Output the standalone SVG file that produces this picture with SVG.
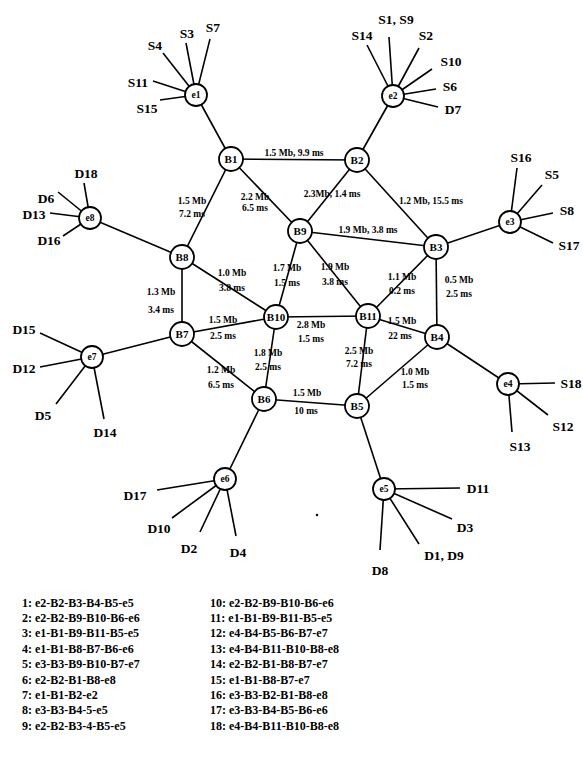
<svg xmlns="http://www.w3.org/2000/svg" width="583" height="762" viewBox="0 0 583 762">
<style>
.e{stroke:#000;stroke-width:1.6;fill:none}
.n{fill:#fff;stroke:#000;stroke-width:1.8}
.nl{font-family:"Liberation Serif",serif;font-weight:bold;font-size:11px;text-anchor:middle;dominant-baseline:central}
.ne{font-family:"Liberation Serif",serif;font-weight:bold;font-size:9.5px;text-anchor:middle;dominant-baseline:central}
.lf{font-family:"Liberation Serif",serif;font-weight:bold;font-size:13.5px;text-anchor:middle;dominant-baseline:central}
.el{font-family:"Liberation Serif",serif;font-weight:bold;font-size:9.5px;text-anchor:middle;dominant-baseline:central}
.rt{font-family:"Liberation Serif",serif;font-weight:bold;font-size:12px}
</style>
<rect width="583" height="762" fill="#fff"/>
<g id="connectors" class="e">
<line x1="196" y1="95" x2="231" y2="159"/>
<line x1="393" y1="96" x2="357" y2="160"/>
<line x1="231" y1="159" x2="357" y2="160"/>
<line x1="231" y1="159" x2="182" y2="257"/>
<line x1="231" y1="159" x2="300" y2="231"/>
<line x1="357" y1="160" x2="300" y2="231"/>
<line x1="357" y1="160" x2="436" y2="247"/>
<line x1="436" y1="247" x2="510" y2="222"/>
<line x1="300" y1="231" x2="436" y2="247"/>
<line x1="182" y1="257" x2="90" y2="218"/>
<line x1="182" y1="257" x2="182" y2="334"/>
<line x1="182" y1="257" x2="276" y2="317"/>
<line x1="300" y1="231" x2="276" y2="317"/>
<line x1="300" y1="231" x2="368" y2="316"/>
<line x1="436" y1="247" x2="368" y2="316"/>
<line x1="436" y1="247" x2="437" y2="337"/>
<line x1="182" y1="334" x2="92" y2="357"/>
<line x1="182" y1="334" x2="276" y2="317"/>
<line x1="276" y1="317" x2="368" y2="316"/>
<line x1="368" y1="316" x2="437" y2="337"/>
<line x1="437" y1="337" x2="508" y2="384"/>
<line x1="182" y1="334" x2="264" y2="399"/>
<line x1="276" y1="317" x2="264" y2="399"/>
<line x1="368" y1="316" x2="357" y2="406"/>
<line x1="264" y1="399" x2="357" y2="406"/>
<line x1="437" y1="337" x2="357" y2="406"/>
<line x1="264" y1="399" x2="225" y2="479"/>
<line x1="357" y1="406" x2="384" y2="489"/>
<line x1="196" y1="95" x2="163" y2="53"/>
<line x1="196" y1="95" x2="186" y2="43"/>
<line x1="196" y1="95" x2="210" y2="39"/>
<line x1="196" y1="95" x2="153" y2="81"/>
<line x1="196" y1="95" x2="160" y2="100"/>
<line x1="393" y1="96" x2="367" y2="45"/>
<line x1="393" y1="96" x2="389" y2="37"/>
<line x1="393" y1="96" x2="419" y2="48"/>
<line x1="393" y1="96" x2="432" y2="69"/>
<line x1="393" y1="96" x2="436" y2="89"/>
<line x1="393" y1="96" x2="438" y2="107"/>
<line x1="510" y1="222" x2="517" y2="168"/>
<line x1="510" y1="222" x2="542" y2="185"/>
<line x1="510" y1="222" x2="553" y2="213"/>
<line x1="510" y1="222" x2="553" y2="243"/>
<line x1="90" y1="218" x2="84" y2="183"/>
<line x1="90" y1="218" x2="58" y2="192"/>
<line x1="90" y1="218" x2="50" y2="213"/>
<line x1="90" y1="218" x2="63" y2="236"/>
<line x1="92" y1="357" x2="40" y2="333"/>
<line x1="92" y1="357" x2="40" y2="367"/>
<line x1="92" y1="357" x2="56" y2="404"/>
<line x1="92" y1="357" x2="104" y2="419"/>
<line x1="508" y1="384" x2="555" y2="383"/>
<line x1="508" y1="384" x2="548" y2="415"/>
<line x1="508" y1="384" x2="512" y2="432"/>
<line x1="225" y1="479" x2="157" y2="490"/>
<line x1="225" y1="479" x2="172" y2="518"/>
<line x1="225" y1="479" x2="200" y2="532"/>
<line x1="225" y1="479" x2="236" y2="536"/>
<line x1="384" y1="489" x2="460" y2="488"/>
<line x1="384" y1="489" x2="452" y2="519"/>
<line x1="384" y1="489" x2="419" y2="544"/>
<line x1="384" y1="489" x2="380" y2="550"/>
</g>
<g id="edge-labels">
<text class="el" x="294" y="153">1.5 Mb, 9.9 ms</text>
<text class="el" x="192" y="201">1.5 Mb</text><text class="el" x="192" y="214">7.2 ms</text>
<text class="el" x="255" y="197">2.2 Mb</text><text class="el" x="255" y="208">6.5 ms</text>
<text class="el" x="332" y="194">2.3Mb, 1.4 ms</text>
<text class="el" x="431" y="201">1.2 Mb, 15.5 ms</text>
<text class="el" x="368" y="230">1.9 Mb, 3.8 ms</text>
<text class="el" x="161" y="292">1.3 Mb</text><text class="el" x="161" y="310">3.4 ms</text>
<text class="el" x="232" y="273">1.0 Mb</text><text class="el" x="232" y="288">3.8 ms</text>
<text class="el" x="287" y="268">1.7 Mb</text><text class="el" x="287" y="283">1.5 ms</text>
<text class="el" x="335" y="267">1.9 Mb</text><text class="el" x="335" y="282">3.8 ms</text>
<text class="el" x="402" y="277">1.1 Mb</text><text class="el" x="402" y="291">0.2 ms</text>
<text class="el" x="459" y="280">0.5 Mb</text><text class="el" x="459" y="294">2.5 ms</text>
<text class="el" x="223" y="320">1.5 Mb</text><text class="el" x="223" y="336">2.5 ms</text>
<text class="el" x="311" y="325">2.8 Mb</text><text class="el" x="311" y="339">1.5 ms</text>
<text class="el" x="402" y="321">1.5 Mb</text><text class="el" x="400" y="336">22 ms</text>
<text class="el" x="268" y="353">1.8 Mb</text><text class="el" x="268" y="367">2.5 ms</text>
<text class="el" x="359" y="351">2.5 Mb</text><text class="el" x="359" y="364">7.2 ms</text>
<text class="el" x="221" y="370">1.2 Mb</text><text class="el" x="221" y="385">6.5 ms</text>
<text class="el" x="307" y="393">1.5 Mb</text><text class="el" x="306" y="411">10 ms</text>
<text class="el" x="415" y="372">1.0 Mb</text><text class="el" x="415" y="385">1.5 ms</text>
</g>
<g id="e1"><circle class="n" cx="196" cy="95" r="11"/><text class="ne" x="196" y="95">e1</text></g>
<g id="e2"><circle class="n" cx="393" cy="96" r="11"/><text class="ne" x="393" y="96">e2</text></g>
<g id="e3"><circle class="n" cx="510" cy="222" r="11"/><text class="ne" x="510" y="222">e3</text></g>
<g id="e4"><circle class="n" cx="508" cy="384" r="11"/><text class="ne" x="508" y="384">e4</text></g>
<g id="e5"><circle class="n" cx="384" cy="489" r="11"/><text class="ne" x="384" y="489">e5</text></g>
<g id="e6"><circle class="n" cx="225" cy="479" r="11"/><text class="ne" x="225" y="479">e6</text></g>
<g id="e7"><circle class="n" cx="92" cy="357" r="11"/><text class="ne" x="92" y="357">e7</text></g>
<g id="e8"><circle class="n" cx="90" cy="218" r="11"/><text class="ne" x="90" y="218">e8</text></g>
<g id="B1"><circle class="n" cx="231" cy="159" r="12"/><text class="nl" x="231" y="159">B1</text></g>
<g id="B2"><circle class="n" cx="357" cy="160" r="12"/><text class="nl" x="357" y="160">B2</text></g>
<g id="B3"><circle class="n" cx="436" cy="247" r="12"/><text class="nl" x="436" y="247">B3</text></g>
<g id="B4"><circle class="n" cx="437" cy="337" r="12"/><text class="nl" x="437" y="337">B4</text></g>
<g id="B5"><circle class="n" cx="357" cy="406" r="12"/><text class="nl" x="357" y="406">B5</text></g>
<g id="B6"><circle class="n" cx="264" cy="399" r="12"/><text class="nl" x="264" y="399">B6</text></g>
<g id="B7"><circle class="n" cx="182" cy="334" r="12"/><text class="nl" x="182" y="334">B7</text></g>
<g id="B8"><circle class="n" cx="182" cy="257" r="12"/><text class="nl" x="182" y="257">B8</text></g>
<g id="B9"><circle class="n" cx="300" cy="231" r="12"/><text class="nl" x="300" y="231">B9</text></g>
<g id="B10"><circle class="n" cx="276" cy="317" r="12"/><text class="nl" x="276" y="317">B10</text></g>
<g id="B11"><circle class="n" cx="368" cy="316" r="12"/><text class="nl" x="368" y="316">B11</text></g>
<g id="leaf-labels">
<text class="lf" x="155" y="45">S4</text>
<text class="lf" x="187" y="33">S3</text>
<text class="lf" x="213" y="27">S7</text>
<text class="lf" x="138" y="82">S11</text>
<text class="lf" x="147" y="108">S15</text>
<text class="lf" x="362" y="35">S14</text>
<text class="lf" x="396" y="19">S1, S9</text>
<text class="lf" x="426" y="35">S2</text>
<text class="lf" x="451" y="61">S10</text>
<text class="lf" x="450" y="86">S6</text>
<text class="lf" x="453" y="109">D7</text>
<text class="lf" x="521" y="157">S16</text>
<text class="lf" x="552" y="174">S5</text>
<text class="lf" x="567" y="210">S8</text>
<text class="lf" x="569" y="245">S17</text>
<text class="lf" x="86" y="173">D18</text>
<text class="lf" x="46" y="198">D6</text>
<text class="lf" x="34" y="214">D13</text>
<text class="lf" x="49" y="240">D16</text>
<text class="lf" x="24" y="329">D15</text>
<text class="lf" x="24" y="368">D12</text>
<text class="lf" x="43" y="415">D5</text>
<text class="lf" x="105" y="432">D14</text>
<text class="lf" x="571" y="383">S18</text>
<text class="lf" x="563" y="426">S12</text>
<text class="lf" x="520" y="446">S13</text>
<text class="lf" x="135" y="495">D17</text>
<text class="lf" x="159" y="528">D10</text>
<text class="lf" x="189" y="548">D2</text>
<text class="lf" x="238" y="552">D4</text>
<text class="lf" x="478" y="488">D11</text>
<text class="lf" x="465" y="527">D3</text>
<text class="lf" x="444" y="555">D1, D9</text>
<text class="lf" x="380" y="570">D8</text>
</g>
<circle cx="317" cy="515" r="1.2" fill="#000"/>
<g id="routes" class="rt">
<text x="22" y="607">1: e2-B2-B3-B4-B5-e5</text>
<text x="22" y="622">2: e2-B2-B9-B10-B6-e6</text>
<text x="22" y="637">3: e1-B1-B9-B11-B5-e5</text>
<text x="22" y="653">4: e1-B1-B8-B7-B6-e6</text>
<text x="22" y="668">5: e3-B3-B9-B10-B7-e7</text>
<text x="22" y="684">6: e2-B2-B1-B8-e8</text>
<text x="22" y="699">7: e1-B1-B2-e2</text>
<text x="22" y="714">8: e3-B3-B4-5-e5</text>
<text x="22" y="730">9: e2-B2-B3-4-B5-e5</text>
<text x="210" y="607">10: e2-B2-B9-B10-B6-e6</text>
<text x="210" y="622">11: e1-B1-B9-B11-B5-e5</text>
<text x="210" y="637">12: e4-B4-B5-B6-B7-e7</text>
<text x="210" y="653">13: e4-B4-B11-B10-B8-e8</text>
<text x="210" y="668">14: e2-B2-B1-B8-B7-e7</text>
<text x="210" y="684">15: e1-B1-B8-B7-e7</text>
<text x="210" y="699">16: e3-B3-B2-B1-B8-e8</text>
<text x="210" y="714">17: e3-B3-B4-B5-B6-e6</text>
<text x="210" y="730">18: e4-B4-B11-B10-B8-e8</text>
</g>
</svg>
